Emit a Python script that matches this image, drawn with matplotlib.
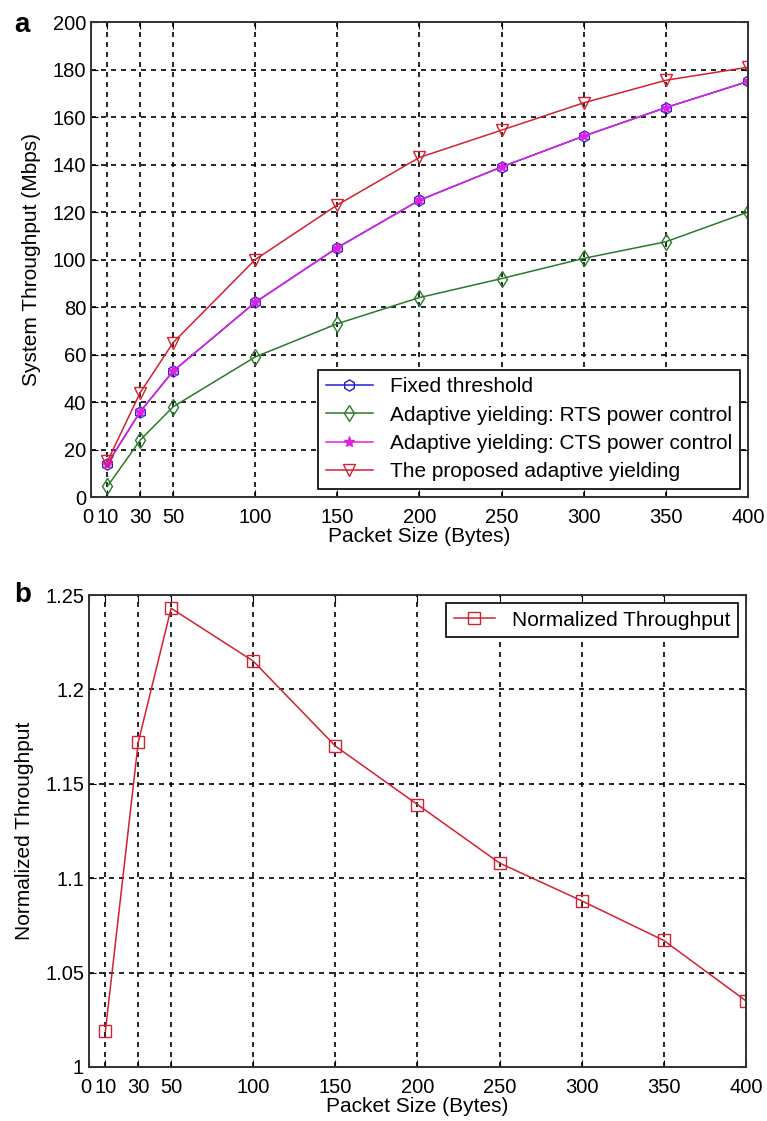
import matplotlib
matplotlib.use('Agg')
import matplotlib.pyplot as plt
import matplotlib.transforms as mtransforms

plt.rcParams['font.family'] = ['Liberation Sans', 'DejaVu Sans']

packet_size = [10, 30, 50, 100, 150, 200, 250, 300, 350, 400]
x_ticks = [0, 10, 30, 50, 100, 150, 200, 250, 300, 350, 400]
x_ticklabels = ['0', '10', '30', '50', '100', '150', '200', '250', '300', '350', '400']

fixed = [14, 36, 53, 82, 105, 125, 139, 152, 164, 175]
rts = [4.5, 24, 38, 59, 73, 84, 92, 100.5, 107.5, 120]
cts = [14, 36, 53, 82, 105, 125, 139, 152, 164, 175]
proposed = [15, 44, 65, 100, 123, 143, 154.5, 166, 175.5, 181]

normalized = [1.019, 1.172, 1.243, 1.215, 1.170, 1.139, 1.108, 1.088, 1.067, 1.035]

blue = '#2020d0'
green = '#2a7a2a'
magenta = '#e020e0'
red = '#d42030'

fs = 14.5
lfs = 15


def style(fig, ax):
    ax.set_xlim(0, 400)
    ax.set_xticks(x_ticks)
    ax.set_xticklabels(x_ticklabels)
    ax.tick_params(direction='in', top=True, right=True, labelsize=fs, length=5)
    ax.tick_params(axis='x', pad=8)
    ax.grid(True, color='black', linestyle=(0, (3, 3)), linewidth=1.2)
    for s in ax.spines.values():
        s.set_linewidth(1.4)
        s.set_color('#333333')
    ax.set_xlabel('Packet Size (Bytes)', fontsize=lfs, labelpad=0)
    # pull the "0" a little left so it reads "010" without colliding
    lab0 = ax.get_xticklabels()[0]
    lab0.set_transform(lab0.get_transform() +
                       mtransforms.ScaledTranslation(-2 / 72, 0, fig.dpi_scale_trans))


fig = plt.figure(figsize=(7.67, 11.21), dpi=100)

ax1 = fig.add_axes([0.1186, 0.5566, 0.8566, 0.4237])
ax1.plot(packet_size, fixed, color=blue, marker='h', mfc='none', ms=8, lw=1.1,
         label='Fixed threshold')
ax1.plot(packet_size, rts, color=green, marker='d', mfc='none', ms=8, lw=1.1,
         label='Adaptive yielding: RTS power control')
ax1.plot(packet_size, cts, color=magenta, marker='*', ms=8, lw=1.1,
         label='Adaptive yielding: CTS power control')
ax1.plot(packet_size, proposed, color=red, marker='v', mfc='none', ms=9, lw=1.1,
         label='The proposed adaptive yielding')
ax1.set_ylim(0, 200)
ax1.set_yticks(range(0, 201, 20))
ax1.set_ylabel('System Throughput (Mbps)', fontsize=lfs, labelpad=8)
style(fig, ax1)
leg = ax1.legend(loc='lower right', fontsize=lfs, fancybox=False, edgecolor='black',
                 framealpha=1, borderpad=0.35, labelspacing=0.45, handlelength=2.3,
                 borderaxespad=0.4)
leg.get_frame().set_linewidth(1.2)

ax2 = fig.add_axes([0.116, 0.0482, 0.8566, 0.421])
ax2.plot(packet_size, normalized, color=red, marker='s', mfc='none', ms=9, lw=1.1,
         label='Normalized Throughput')
ax2.set_ylim(1, 1.25)
ax2.set_yticks([1, 1.05, 1.1, 1.15, 1.2, 1.25])
ax2.set_yticklabels(['1', '1.05', '1.1', '1.15', '1.2', '1.25'])
ax2.set_ylabel('Normalized Throughput', fontsize=lfs, labelpad=8)
style(fig, ax2)
leg2 = ax2.legend(loc='upper right', fontsize=lfs, fancybox=False, edgecolor='black',
                  framealpha=1, borderpad=0.35, handlelength=2.0, borderaxespad=0.4)
leg2.get_frame().set_linewidth(1.2)

fig.text(0.018, 0.978, 'a', fontsize=20, fontweight='bold', va='center')
fig.text(0.018, 0.469, 'b', fontsize=20, fontweight='bold', va='center')

fig.savefig('out.png', dpi=100)
